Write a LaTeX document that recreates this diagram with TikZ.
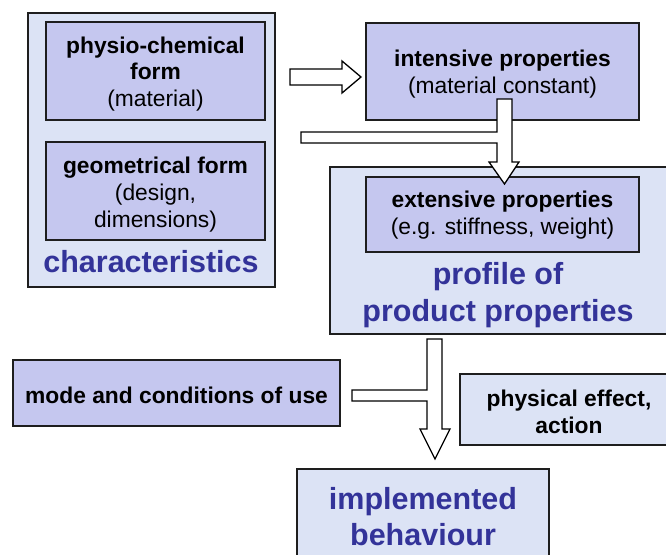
\documentclass[tikz,border=0pt]{standalone}
\usepackage{fontspec}
\setmainfont{Liberation Sans}
\definecolor{lav}{HTML}{C5C7EF}
\definecolor{lite}{HTML}{DCE3F5}
\definecolor{bluetxt}{HTML}{333399}
\definecolor{edge}{HTML}{1E1E1E}
\begin{document}
\begin{tikzpicture}[x=1pt,y=-1pt,
  outerbox/.style={draw=edge,line width=1.3pt,fill=lite,inner sep=0pt,outer sep=0pt},
  innerbox/.style={draw=edge,line width=1.3pt,fill=lav,inner sep=0pt,outer sep=0pt},
  txt/.style={align=center,inner sep=0pt,font=\fontsize{22.8}{26.8}\selectfont},
  bluelabel/.style={text=bluetxt,align=center,font=\bfseries\fontsize{30.5}{36.5}\selectfont,inner sep=0pt},
  blacklabel/.style={align=center,font=\bfseries\fontsize{22.8}{26.8}\selectfont,inner sep=0pt},
  hollow/.style={draw=black,line width=1.3pt,fill=white,line join=miter}]
\useasboundingbox (0,0) rectangle (666,554);
% characteristics
\node[outerbox,minimum width=247pt,minimum height=274pt] (char) at (151.5,150) {};
\node[innerbox,minimum width=219pt,minimum height=98pt] (physio) at (155.5,71) {};
\node[txt] (physiolbl) at ([yshift=-3pt]physio.center) {\textbf{physio-chemical}\\\textbf{form}\\(material)};
\node[innerbox,minimum width=219pt,minimum height=98pt] (geom) at (155.5,191) {};
\node[txt] (geomlbl) at ([yshift=-3.5pt]geom.center) {\textbf{geometrical form}\\(design,\\dimensions)};
\node[bluelabel] (charlbl) at (151,262) {characteristics};
% intensive
\node[innerbox,minimum width=273pt,minimum height=97pt] (intens) at (502.5,71.5) {};
\node[txt] (intenslbl) at ([yshift=-2.5pt]intens.center) {\textbf{intensive properties}\\(material constant)};
% profile
\node[outerbox,minimum width=360pt,minimum height=167pt] (profile) at (510,250.5) {};
\node[innerbox,minimum width=273pt,minimum height=75pt] (extens) at (502.5,214.5) {};
\node[txt] (extenslbl) at ([yshift=-1pt]extens.center) {\textbf{extensive properties}\\(e.g. stiffness, weight)};
\node[bluelabel] (proflbl) at (498,295) {profile of\\product properties};
% bottom
\node[innerbox,minimum width=327pt,minimum height=66pt] (mode) at (176.5,393) {};
\node[blacklabel] (modelbl) at ([yshift=-2pt]mode.center) {mode and conditions of use};
\node[outerbox,minimum width=240pt,minimum height=71pt] (phys) at (580,409.5) {};
\node[blacklabel] (physlbl) at (569,412) {physical effect,\\action};
\node[outerbox,minimum width=252pt,minimum height=120pt] (impl) at (423,529) {};
\node[bluelabel] (impllbl) at (423,516.5) {implemented\\behaviour};
% hollow arrows
\draw[hollow] (290,69) -- (342,69) -- (342,61) -- (361,77) -- (342,93) -- (342,85) -- (290,85) -- cycle;
\draw[hollow] (301,132) -- (497,132) -- (497,99) -- (512,99) -- (512,162) -- (519,162)
  -- (504.5,184) -- (489,162) -- (497,162) -- (497,143) -- (301,143) -- cycle;
\draw[hollow] (352,390) -- (427,390) -- (427,339) -- (442,339) -- (442,429) -- (450,429)
  -- (435,459) -- (420,429) -- (427,429) -- (427,401) -- (352,401) -- cycle;
\end{tikzpicture}
\end{document}
